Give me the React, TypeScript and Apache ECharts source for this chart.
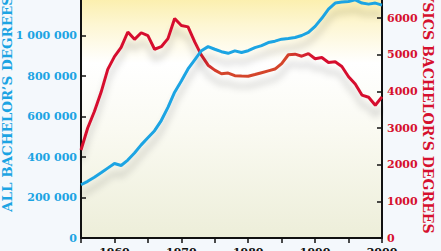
import React, { useEffect, useRef } from "react";
import * as echarts from "echarts";

const years: number[] = [];
for (let y = 1955; y <= 2000; y++) years.push(y);

const allDegrees = [
  263000, 280000, 300000, 322000, 345000, 368000, 358000, 385000, 420000, 460000,
  495000, 530000, 580000, 645000, 720000, 775000, 835000, 880000, 925000, 945000,
  932000, 920000, 912000, 924000, 916000, 925000, 940000, 950000, 965000, 972000,
  982000, 985000, 990000, 1000000, 1015000, 1045000, 1085000, 1130000, 1160000, 1165000,
  1168000, 1176000, 1160000, 1155000, 1160000, 1150000,
];

const physicsDegrees = [
  2400, 3000, 3450, 3975, 4600, 4950, 5200, 5620, 5420, 5600,
  5520, 5150, 5220, 5440, 5990, 5800, 5760, 5350, 4990, 4715,
  4580, 4480, 4500, 4430, 4420, 4414, 4460, 4510, 4560, 4610,
  4760, 5000, 5016, 4960, 5030, 4890, 4924, 4790, 4806, 4680,
  4400, 4200, 3900, 3840, 3622, 3849,
];

const leftTitle = "ALL BACHELOR\u2019S DEGREES";
const rightTitle = "PHYSICS BACHELOR\u2019S DEGREES";

const BLUE = "#1ca4e3";
const RED = "#d6102e";
const FONT = "DejaVu Serif";

function spaced(v: number): string {
  return String(v).replace(/\B(?=(\d{3})+(?!\d))/g, " ");
}

export default function App() {
  const ref = useRef<HTMLDivElement>(null);
  useEffect(() => {
    if (!ref.current) return;
    const chart = echarts.init(ref.current, null, { renderer: "svg" });
    const blueData = years.map((y, i) => [y, allDegrees[i]]);
    const redData = years.map((y, i) => [y, physicsDegrees[i]]);
    chart.setOption({
      animation: false,
      backgroundColor: "#f4f8fc",
      grid: {
        left: 81,
        right: 59,
        top: -5,
        bottom: 13,
        containLabel: false,
        outerBoundsMode: "none",
        show: true,
        borderWidth: 0,
        backgroundColor: new echarts.graphic.LinearGradient(0, 0, 0, 1, [
          { offset: 0, color: "#fbeea8" },
          { offset: 0.12, color: "#fdf6d2" },
          { offset: 0.28, color: "#ffffff" },
          { offset: 0.55, color: "#fafaf2" },
          { offset: 1, color: "#edeed9" },
        ]),
      },
      xAxis: {
        type: "value",
        min: 1955,
        max: 2000,
        interval: 5,
        axisLine: { show: true, lineStyle: { color: "#111", width: 2 } },
        axisTick: { show: true, inside: false, length: 5, lineStyle: { color: "#111", width: 1.5 } },
        axisLabel: {
          margin: 9,
          color: "#111",
          fontFamily: FONT,
          fontWeight: "bold",
          fontSize: 11,
          formatter: (v: number) => (v % 10 === 0 ? String(v) : ""),
        },
        splitLine: { show: false },
      },
      yAxis: [
        {
          type: "value",
          min: 0,
          max: 1200000,
          interval: 200000,
          position: "left",
          axisLine: { show: true, lineStyle: { color: "#111", width: 2 } },
          axisTick: { show: true, inside: true, length: 5, lineStyle: { color: "#111", width: 1.5 } },
          axisLabel: {
            margin: 4,
            color: BLUE,
            fontFamily: FONT,
            fontWeight: "bold",
            fontSize: 11,
            formatter: (v: number) => spaced(v),
          },
          splitLine: { show: false },
        },
        {
          type: "value",
          min: 0,
          max: 6630,
          interval: 1000,
          position: "right",
          axisLine: { show: true, lineStyle: { color: "#111", width: 2 } },
          axisTick: { show: true, inside: true, length: 5, lineStyle: { color: "#111", width: 1.5 } },
          axisLabel: {
            margin: 5,
            color: RED,
            fontFamily: FONT,
            fontWeight: "bold",
            fontSize: 11,
            showMaxLabel: false,
            formatter: (v: number) => String(v),
          },
          splitLine: { show: false },
        },
      ],
      series: [
        {
          type: "line",
          yAxisIndex: 1,
          data: redData,
          symbol: "none",
          lineStyle: {
            width: 3,
            color: new echarts.graphic.LinearGradient(0, 0, 1, 0, [
              { offset: 0, color: RED },
              { offset: 0.38, color: RED },
              { offset: 0.46, color: "#d4442c" },
              { offset: 0.68, color: "#d4442c" },
              { offset: 0.78, color: RED },
              { offset: 1, color: RED },
            ]),
            shadowColor: "rgba(0,0,0,0.22)",
            shadowBlur: 7,
            shadowOffsetY: 10,
          },
        },
        {
          type: "line",
          yAxisIndex: 0,
          data: blueData,
          symbol: "none",
          lineStyle: {
            width: 3,
            color: BLUE,
            shadowColor: "rgba(0,0,0,0.22)",
            shadowBlur: 7,
            shadowOffsetY: 10,
          },
        },
      ],
      graphic: [
        {
          type: "text",
          x: 7,
          y: 104,
          rotation: Math.PI / 2,
          style: {
            text: leftTitle,
            fill: BLUE,
            font: `bold 13.5px "${FONT}"`,
            textAlign: "center",
            textVerticalAlign: "middle",
          },
        },
        {
          type: "text",
          x: 428,
          y: 101,
          rotation: -Math.PI / 2,
          style: {
            text: rightTitle,
            fill: RED,
            font: `bold 14px "${FONT}"`,
            textAlign: "center",
            textVerticalAlign: "middle",
          },
        },
      ],
    });
    return () => chart.dispose();
  }, []);
  return (
    <div
      ref={ref}
      style={{ position: "absolute", left: 0, top: 0, width: 441, height: 251 }}
    />
  );
}
